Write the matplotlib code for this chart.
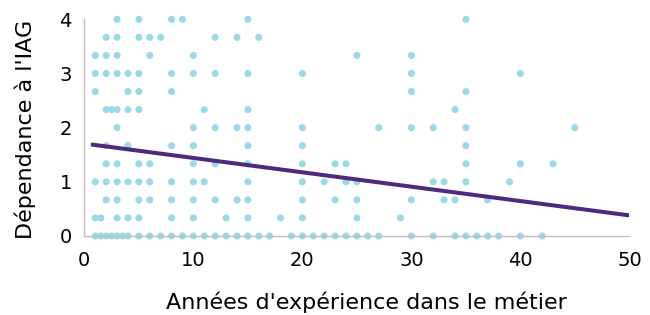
import matplotlib
matplotlib.use("Agg")
import matplotlib.pyplot as plt
import numpy as np

# years of experience and IAG dependence (0..4, steps of 1/3)
years = [
    # y = 4
    3, 5, 8, 9, 15, 35,
    # y = 3.67
    2, 3, 5, 6, 7, 12, 14, 16,
    # y = 3.33
    1, 2, 3, 6, 10, 25, 30,
    # y = 3
    1, 2, 3, 4, 5, 8, 10, 12, 15, 20, 30, 40,
    # y = 2.67
    1, 4, 5, 8, 30, 35,
    # y = 2.33
    2, 2.5, 3, 4, 5, 11, 15, 34,
    # y = 2
    3, 10, 12, 14, 15, 20, 27, 30, 32, 35, 45,
    # y = 1.67
    2, 4, 8, 10, 15, 20, 35,
    # y = 1.33
    2, 3, 5, 6, 10, 12, 15, 20, 23, 24, 35, 40, 43,
    # y = 1
    1, 2, 3, 4, 5, 6, 8, 10, 11, 15, 20, 22, 24, 25, 32, 33, 35, 39,
    # y = 0.67
    2, 3, 5, 6, 8, 10, 12, 14, 15, 20, 23, 25, 30, 33, 34, 37,
    # y = 0.33
    1, 1.5, 3, 4, 5, 8, 10, 13, 15, 18, 20, 25, 29,
    # y = 0
    1, 1.5, 2, 2.5, 3, 3.5, 4, 5, 6, 7, 8, 9, 10, 11, 12, 13, 14, 15, 16, 17,
    19, 20, 21, 22, 23, 24, 25, 26, 27, 30, 32, 34, 35, 36, 37, 38, 40, 42,
]
row_counts = [6, 8, 7, 12, 6, 8, 11, 7, 13, 18, 16, 13, 38]
row_levels = [4, 11/3, 10/3, 3, 8/3, 7/3, 2, 5/3, 4/3, 1, 2/3, 1/3, 0]
dependance = np.repeat(row_levels, row_counts)

# trend line (as drawn)
trend_x = [0.6, 50]
trend_y = [1.69, 0.38]

plt.rcParams['font.family'] = ['DejaVu Sans']

fig = plt.figure(figsize=(6.5, 3.15), dpi=100)
ax = fig.add_axes([0.1298, 0.2508, 0.8385, 0.6879])

ax.scatter(years, dependance, s=26, color='#9BD9E8', edgecolors='none',
           clip_on=False, zorder=2)
ax.plot(trend_x, trend_y, color='#4E2A7E', lw=2.9, solid_capstyle='butt', zorder=3)

ax.set_xlim(0, 50)
ax.set_ylim(0, 4)
ax.set_xticks([0, 10, 20, 30, 40, 50])
ax.set_yticks([0, 1, 2, 3, 4])
ax.tick_params(length=0, labelsize=14, colors='black')
ax.tick_params(axis='y', pad=9)
ax.tick_params(axis='x', pad=11)
for s in ['top', 'right']:
    ax.spines[s].set_visible(False)
for s in ['left', 'bottom']:
    ax.spines[s].set_color('#BFBFBF')
    ax.spines[s].set_linewidth(1)

ax.set_xlabel("Années d'expérience dans le métier", fontsize=16)
ax.set_ylabel("Dépendance à l'IAG", fontsize=16)
ax.xaxis.set_label_coords(0.517, -0.255)
ax.yaxis.set_label_coords(-0.088, 0.49)

fig.savefig('out.png', dpi=100)
